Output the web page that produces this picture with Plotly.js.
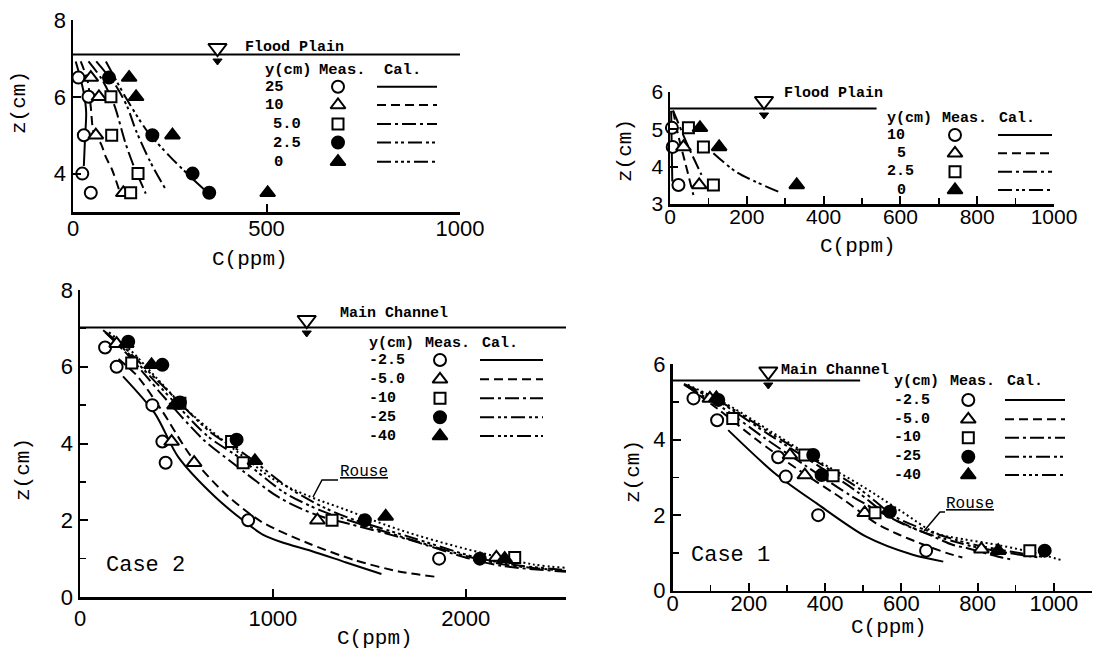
<!DOCTYPE html>
<html><head><meta charset="utf-8">
<script src="https://cdn.plot.ly/plotly-3.0.1.min.js"></script>
<style>html,body{margin:0;padding:0;background:#fff}#chart{width:1093px;height:659px}</style>
</head><body><div id="chart"></div><script>
// ================= DATA =================
// Top-left panel: Flood plain, y(cm) series
const tlLabels = ['25','10','5.0','2.5','0'];
const tlMeasC = [[14,40,28,24,46],[46,67,59,130],[98,100,168,149],[93,205,309,352],[145,163,257,503]];
const tlMeasZ = [[6.5,6.0,5.0,4.0,3.5],[6.5,6.0,5.0,3.5],[6.0,5.0,4.0,3.5],[6.5,5.0,4.0,3.5],[6.5,6.0,5.0,3.5]];
const tlCalC = [[7,16,28,34,31,28],[20,38,46,54,72,85,101,119],[40,75,106,136,158,175,188],[60,110,140,162,200,240],[85,137,192,250,300,352]];
const tlCalZ = [[6.92,6.6,6.1,5.6,4.9,4.2],[6.92,6.4,5.73,5.04,4.78,4.43,4.1,3.58],[6.92,6.45,5.8,4.78,4.17,3.78,3.48],[6.92,6.3,5.75,5.14,4.3,3.58],[6.92,5.97,5.1,4.45,3.95,3.47]];
const tlWater = 7.1, tlWaterEnd = 1000;

// Top-right panel: Flood plain
const trLabels = ['10','5','2.5','0'];
const trMeasC = [[5,7,22],[35,76],[48,87,113],[78,128,330]];
const trMeasZ = [[5.04,4.53,3.51],[4.53,3.51],[5.04,4.53,3.51],[5.04,4.53,3.51]];
const trCalC = [[3,4,5,6],[8,20,39,61],[8,13,45,82],[113,174,282]];
const trCalZ = [[5.5,4.8,4.2,3.6],[5.5,4.9,4.13,3.24],[5.5,5.38,4.6,3.78],[4.36,3.85,3.33]];
const trWater = 5.56, trWaterEnd = 538;

// Bottom-left panel: Main channel, Case 2
const blLabels = ['-2.5','-5.0','-10','-25','-40'];
const blMeasC = [[130,190,375,427,444,872,1862],[190,475,592,1231,2159],[268,518,786,846,1307,2254],[250,427,518,812,1477,2073],[240,371,490,907,1585,2202]];
const blMeasZ = [[6.5,6.0,5.0,4.05,3.5,2.0,1.0],[6.6,4.05,3.5,2.0,1.03],[6.1,5.05,4.05,3.5,2.0,1.03],[6.65,6.05,5.07,4.1,2.0,1.0],[6.6,6.05,5.0,3.55,2.1,1.0]];
const blCalC = [
  [223,389,509,700,855,950,1050,1200,1380,1563],
  [200,293,423,578,760,941,1183,1425,1658,1839],
  [140,250,420,640,790,1030,1220,1400,1700,2020,2200,2520],
  [130,240,420,660,830,1060,1250,1380,1680,2030,2220,2520],
  [120,230,420,680,860,1090,1270,1400,1700,2040,2230,2520]];
const blCalZ = [
  [5.75,4.78,3.65,2.61,1.96,1.62,1.42,1.2,0.9,0.6],
  [6.2,5.78,4.87,3.65,2.66,1.96,1.4,0.96,0.66,0.53],
  [6.85,6.3,5.3,4.1,3.5,2.6,2.15,1.9,1.5,1.0,0.8,0.66],
  [6.9,6.4,5.45,4.2,3.62,2.72,2.25,2.02,1.55,1.03,0.83,0.68],
  [6.95,6.5,5.55,4.28,3.7,2.82,2.32,2.05,1.58,1.05,0.85,0.7]];
const blRouseC = [150,268,389,550,700,850,1010,1200,1364,1658,2003,2349,2520];
const blRouseZ = [6.9,6.4,5.75,4.9,4.25,3.65,3.05,2.6,2.3,1.75,1.25,0.85,0.76];
const blWater = 7.02, blWaterEnd = 2520;

// Bottom-right panel: Main channel, Case 1
const brLabels = ['-2.5','-5.0','-10','-25','-40'];
const brMeasC = [[55,117,277,297,382,665],[98,308,347,504,810],[158,347,421,531,937],[120,369,391,570,976],[115,854]];
const brMeasZ = [[5.09,4.51,3.53,3.02,2.0,1.06],[5.09,3.59,3.06,2.06,1.1],[4.56,3.59,3.04,2.06,1.06],[5.05,3.59,3.06,2.09,1.06],[5.1,1.06]];
const brCalC = [
  [146,268,378,508,630,710],
  [40,120,220,330,450,533,590,648,718,760],
  [35,130,240,350,470,590,680,736,771,858,893],
  [30,130,250,360,480,578,657,736,788,880,960],
  [30,130,255,365,490,585,665,745,800,890,970]];
const brCalZ = [
  [4.25,3.11,2.31,1.43,0.95,0.77],
  [5.4,4.8,4.0,3.2,2.4,1.79,1.5,1.26,1.0,0.88],
  [5.42,4.85,4.05,3.3,2.5,1.85,1.45,1.21,1.13,0.89,0.82],
  [5.45,4.95,4.15,3.45,2.65,1.9,1.55,1.31,1.17,1.0,0.88],
  [5.47,4.98,4.18,3.5,2.7,1.95,1.6,1.34,1.2,1.03,0.9]];
const brRouseC = [40,140,260,380,500,600,692,760,858,950,1023];
const brRouseZ = [5.45,4.95,4.2,3.45,2.75,2.1,1.52,1.37,1.2,1.0,0.8];
const brWater = 5.56, brWaterEnd = 492;

// ================= STYLE =================
const W = 1093, H = 659;
const DASH = {solid:'solid', dash:'9px,5px', dashdot:'14px,4px,3px,4px',
  dash2dot:'14px,4px,3px,3px,3px,4px', dash3dot:'14px,4px,3px,3px,3px,3px,3px,4px', dot:'2px,3px'};
const MK = {oc:['circle','#fff',12], ot:['triangle-up','#fff',13], os:['square','#fff',11],
            fc:['circle','#000',12], ft:['triangle-up','#000',13]};
function mstyle(k){ return {symbol:MK[k][0], color:MK[k][1], size:MK[k][2], line:{color:'#000', width:2}}; }
const MONO = 'Liberation Mono, DejaVu Sans Mono, monospace';

const panels = [
  {xa:'x', ya:'y', measC:tlMeasC, measZ:tlMeasZ, calC:tlCalC, calZ:tlCalZ, water:tlWater, waterEnd:tlWaterEnd,
   marks:['oc','ot','os','fc','ft'], dashes:['solid','dash','dashdot','dash2dot','dash3dot']},
  {xa:'x2', ya:'y2', measC:trMeasC, measZ:trMeasZ, calC:trCalC, calZ:trCalZ, water:trWater, waterEnd:trWaterEnd,
   marks:['oc','ot','os','ft'], dashes:['solid','dash','dashdot','dash2dot']},
  {xa:'x3', ya:'y3', measC:blMeasC, measZ:blMeasZ, calC:blCalC, calZ:blCalZ, water:blWater, waterEnd:blWaterEnd,
   rouseC:blRouseC, rouseZ:blRouseZ,
   marks:['oc','ot','os','fc','ft'], dashes:['solid','dash','dashdot','dash2dot','dash3dot']},
  {xa:'x4', ya:'y4', measC:brMeasC, measZ:brMeasZ, calC:brCalC, calZ:brCalZ, water:brWater, waterEnd:brWaterEnd,
   rouseC:brRouseC, rouseZ:brRouseZ,
   marks:['oc','ot','os','fc','ft'], dashes:['solid','dash','dashdot','dash2dot','dash3dot']}
];

const traces = [];
panels.forEach(p => {
  traces.push({x:[0, p.waterEnd], y:[p.water, p.water], xaxis:p.xa, yaxis:p.ya, mode:'lines',
               line:{color:'#000', width:2}, hoverinfo:'skip'});
  if (p.rouseC) traces.push({x:p.rouseC, y:p.rouseZ, xaxis:p.xa, yaxis:p.ya, mode:'lines',
               line:{color:'#000', width:2, dash:DASH.dot, shape:'spline'}, hoverinfo:'skip'});
  p.calC.forEach((c,i) => traces.push({x:c, y:p.calZ[i], xaxis:p.xa, yaxis:p.ya, mode:'lines',
               line:{color:'#000', width:2, dash:DASH[p.dashes[i]], shape:'spline', smoothing:0.8}, hoverinfo:'skip'}));
});
panels.forEach(p => {
  p.measC.forEach((c,i) => traces.push({x:c, y:p.measZ[i], xaxis:p.xa, yaxis:p.ya, mode:'markers',
               cliponaxis:false, marker:mstyle(p.marks[i]), hoverinfo:'skip'}));
});

// ---------- overlay (pixel space) for legends & labels ----------
const annotations = [];
const shapes = [];
function txt(x, y, s, size, opts){
  opts = opts || {};
  annotations.push(Object.assign({x:x, y:y, xref:'x5', yref:'y5', text:s, showarrow:false,
    xanchor:'left', yanchor:'middle', font:{family:MONO, size:size, color:'#000'}}, opts));
}
const legends = [
  {labels:tlLabels, marks:panels[0].marks, dashes:panels[0].dashes, size:15.5, headY:70, headX:[263,316.7,381.7],
   rowY:[86.7,105,124,142.5,161.7], labX:[263,263,271,271,272], mX:338, lX:[377,437]},
  {labels:trLabels, marks:panels[1].marks, dashes:panels[1].dashes, size:15, headY:118.3, headX:[885,940,996.7],
   rowY:[135,153.3,171.7,190], labX:[885,895,885,895], mX:955, lX:[998,1052]},
  {labels:blLabels, marks:panels[2].marks, dashes:panels[2].dashes, size:15, headY:343.3, headX:[366.7,423,480],
   rowY:[360,379.3,398.3,417.3,436], labX:[366.7,366.7,366.7,366.7,366.7], mX:440, lX:[480,543]},
  {labels:brLabels, marks:panels[3].marks, dashes:panels[3].dashes, size:15, headY:381.7, headX:[891.7,948,1005],
   rowY:[400,419.3,437.7,456.7,475], labX:[891.7,891.7,891.7,891.7,891.7], mX:968.3, lX:[1005,1065]}
];
legends.forEach(L => {
  ['y(cm)','Meas.','Cal.'].forEach((h,k) => txt(L.headX[k], L.headY, '<b>'+h+'</b>', L.size));
  L.labels.forEach((lab,i) => {
    txt(L.labX[i], L.rowY[i], '<b>'+lab+'</b>', L.size);
    traces.push({x:[L.lX[0], L.lX[1]], y:[L.rowY[i], L.rowY[i]], xaxis:'x5', yaxis:'y5', mode:'lines',
                 line:{color:'#000', width:2, dash:DASH[L.dashes[i]]}, hoverinfo:'skip'});
    traces.push({x:[L.mX], y:[L.rowY[i]], xaxis:'x5', yaxis:'y5', mode:'markers',
                 marker:mstyle(L.marks[i]), hoverinfo:'skip'});
  });
});
// water-level symbols
const wl = [[217.5,48,61],[764,101,115],[306.7,320,333],[768.3,371.5,385]];
traces.push({x:wl.map(a=>a[0]), y:wl.map(a=>a[1]), xaxis:'x5', yaxis:'y5', mode:'markers',
  marker:{symbol:'triangle-down', size:16, color:'#fff', line:{color:'#000', width:2}}, hoverinfo:'skip'});
traces.push({x:wl.map(a=>a[0]), y:wl.map(a=>a[2]), xaxis:'x5', yaxis:'y5', mode:'markers',
  marker:{symbol:'triangle-down', size:8, color:'#000', line:{color:'#000', width:1}}, hoverinfo:'skip'});

// panel texts
txt(243, 47, '<b>Flood Plain</b>', 15);
txt(782, 93.3, '<b>Flood Plain</b>', 15);
txt(338, 313.3, '<b>Main Channel</b>', 15);
txt(779, 370.5, '<b>Main Channel</b>', 15);
txt(104, 565, 'Case 2', 22);
txt(689, 555, 'Case 1', 22);
txt(338, 472, '<u>Rouse</u>', 16);
txt(944, 504, '<u>Rouse</u>', 16);
shapes.push({type:'path', xref:'x5', yref:'y5', path:'M338,480 L322,480 L313,497', line:{color:'#000', width:1.5}});
shapes.push({type:'path', xref:'x5', yref:'y5', path:'M945,512 L940,512 L924,531', line:{color:'#000', width:1.5}});

// axis titles
const tcfg = {xanchor:'center', yanchor:'middle'};
txt(19, 103, 'z(cm)', 21, Object.assign({textangle:-90}, tcfg));
txt(250, 259, 'C(ppm)', 21, tcfg);
txt(625, 151, 'z(cm)', 21, Object.assign({textangle:-90}, tcfg));
txt(858, 246, 'C(ppm)', 21, tcfg);
txt(23, 470, 'z(cm)', 21, Object.assign({textangle:-90}, tcfg));
txt(375, 638, 'C(ppm)', 21, tcfg);
txt(633, 472, 'z(cm)', 21, Object.assign({textangle:-90}, tcfg));
txt(889, 627, 'C(ppm)', 21, tcfg);

// ================= LAYOUT =================
const TF = 'Liberation Sans, Arial, sans-serif';
function ax(extra){
  return Object.assign({showline:true, linecolor:'#000', linewidth:2.5, ticks:'inside', ticklen:8,
    tickwidth:2, tickcolor:'#000', showgrid:false, zeroline:false, fixedrange:true,
    tickfont:{family:TF, size:22, color:'#000'}}, extra);
}
function minor(d){ return {dtick:d, ticks:'inside', ticklen:6, tickwidth:1.5, tickcolor:'#000', showgrid:false}; }
const layout = {
  width:W, height:H, margin:{l:0, r:0, t:0, b:0}, showlegend:false,
  paper_bgcolor:'#fff', plot_bgcolor:'rgba(0,0,0,0)',
  xaxis: ax({domain:[73/W, 460/W], range:[0,1000], tickvals:[0,500,1000], anchor:'y', ticklabelstandoff:-5}),
  yaxis: ax({domain:[1-212/H, 1-20/H], range:[3,8], tickvals:[4,6,8], anchor:'x'}),
  xaxis2: ax({domain:[670/W, 1054/W], range:[0,1000], dtick:200, tick0:0, minor:minor(100), anchor:'y2',
    ticklabelstandoff:-8, tickfont:{family:TF, size:21, color:'#000'}}),
  yaxis2: ax({domain:[1-204/H, 1-92/H], range:[3,6], dtick:1, tick0:0, anchor:'x2', tickfont:{family:TF, size:21, color:'#000'}}),
  xaxis3: ax({domain:[80/W, 566/W], range:[0,2520], dtick:1000, tick0:0, anchor:'y3', ticklabelstandoff:0}),
  yaxis3: ax({domain:[1-597/H, 1-290/H], range:[0,8], dtick:2, tick0:0, minor:minor(1), anchor:'x3'}),
  xaxis4: ax({domain:[672.5/W, 1092/W], range:[0,1100], dtick:200, tick0:0, minor:minor(100), anchor:'y4', ticklabelstandoff:-9}),
  yaxis4: ax({domain:[1-590.7/H, 1-364/H], range:[0,6], dtick:2, tick0:0, minor:minor(1), anchor:'x4'}),
  xaxis5: {domain:[0,1], range:[0,W], visible:false, fixedrange:true, anchor:'y5'},
  yaxis5: {domain:[0,1], range:[H,0], visible:false, fixedrange:true, anchor:'x5'},
  annotations: annotations, shapes: shapes
};
Plotly.newPlot('chart', traces, layout, {staticPlot:true, displayModeBar:false});
</script></body></html>
